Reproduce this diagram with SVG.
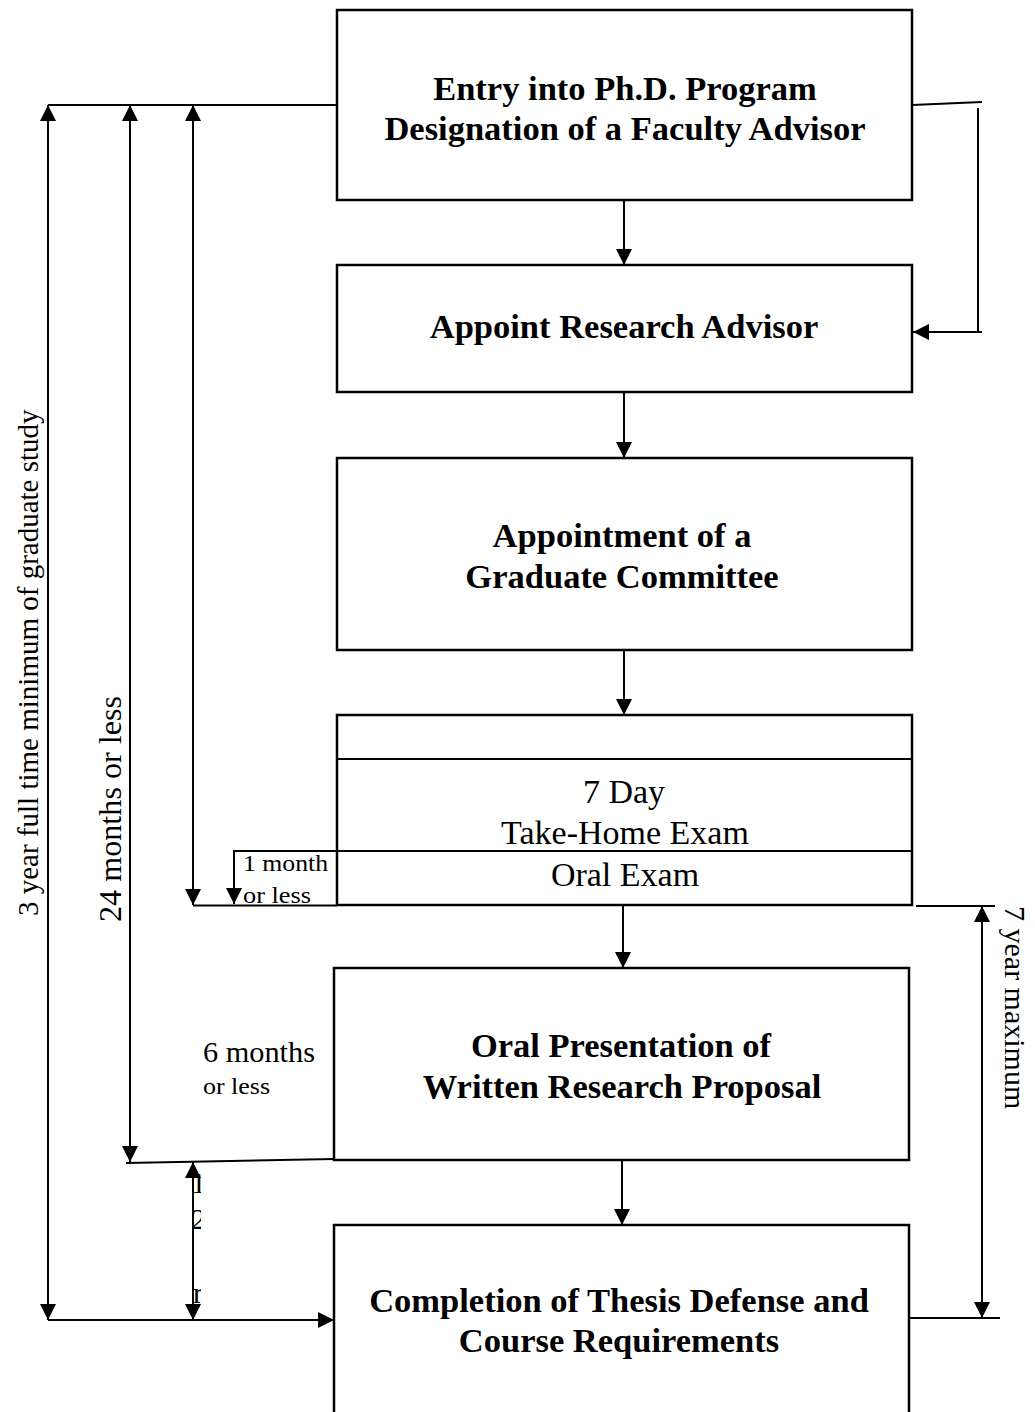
<svg xmlns="http://www.w3.org/2000/svg" width="1035" height="1412" viewBox="0 0 1035 1412">
<style>
.box{fill:#fff;stroke:#000;stroke-width:2.5}
.div{fill:none;stroke:#000;stroke-width:2}
.ln{fill:none;stroke:#000;stroke-width:2}
.b{font-family:'Liberation Serif','Times New Roman',Times,serif;font-weight:700;font-size:34.5px;text-anchor:middle;fill:#000}
.r{font-family:'Liberation Serif','Times New Roman',Times,serif;font-size:34px;text-anchor:middle;fill:#000}
.t{font-family:'Liberation Serif','Times New Roman',Times,serif;fill:#000}
</style>
<defs>
<marker id="ah" markerUnits="userSpaceOnUse" markerWidth="17" markerHeight="17" refX="16" refY="8" orient="auto-start-reverse" viewBox="0 0 17 16">
<path d="M0,0 L16,8 L0,16 z" fill="#000"/>
</marker>
<clipPath id="clipL"><rect x="185" y="1165" width="16" height="150"/></clipPath>
</defs>

<g id="connectors">
<line class="ln" x1="624" y1="200" x2="624" y2="265" marker-end="url(#ah)"/>
<line class="ln" x1="624" y1="392" x2="624" y2="458" marker-end="url(#ah)"/>
<line class="ln" x1="624" y1="650" x2="624" y2="715" marker-end="url(#ah)"/>
<line class="ln" x1="623" y1="905" x2="623" y2="968" marker-end="url(#ah)"/>
<line class="ln" x1="622" y1="1160" x2="622" y2="1225" marker-end="url(#ah)"/>

<line class="ln" x1="48" y1="105" x2="337" y2="105"/>
<line class="ln" x1="48" y1="105" x2="48" y2="1320" marker-start="url(#ah)" marker-end="url(#ah)"/>
<line class="ln" x1="130" y1="105" x2="130" y2="1162" marker-start="url(#ah)" marker-end="url(#ah)"/>
<line class="ln" x1="193" y1="105" x2="193" y2="905" marker-start="url(#ah)" marker-end="url(#ah)"/>
<line class="ln" x1="193" y1="905.5" x2="337" y2="905.5"/>
<polyline class="ln" points="337,851 234,851 234,904" marker-end="url(#ah)"/>
<line class="ln" x1="126" y1="1163" x2="334" y2="1159"/>
<line class="ln" x1="193" y1="1162" x2="193" y2="1320" marker-start="url(#ah)" marker-end="url(#ah)"/>
<line class="ln" x1="48" y1="1320" x2="334" y2="1320" marker-end="url(#ah)"/>

<line class="ln" x1="912" y1="105" x2="982" y2="102"/>
<line class="ln" x1="978" y1="108" x2="978" y2="332"/>
<line class="ln" x1="982" y1="332" x2="913" y2="332" marker-end="url(#ah)"/>

<line class="ln" x1="916" y1="906" x2="995" y2="906"/>
<line class="ln" x1="982" y1="906" x2="982" y2="1318" marker-start="url(#ah)" marker-end="url(#ah)"/>
<line class="ln" x1="909" y1="1318" x2="1000" y2="1318"/>
</g>

<g id="entry">
<rect class="box" x="337" y="10" width="575" height="190"/>
<text class="b" x="625" y="100">Entry into Ph.D. Program</text>
<text class="b" x="625" y="140">Designation of a Faculty Advisor</text>
</g>

<g id="research-advisor">
<rect class="box" x="337" y="265" width="575" height="127"/>
<text class="b" x="624" y="338">Appoint Research Advisor</text>
</g>

<g id="committee">
<rect class="box" x="337" y="458" width="575" height="192"/>
<text class="b" x="622" y="547">Appointment of a</text>
<text class="b" x="622" y="588">Graduate Committee</text>
</g>

<g id="exams">
<rect class="box" x="337" y="715" width="575" height="190"/>
<line class="div" x1="337" y1="759" x2="912" y2="759"/>
<line class="div" x1="337" y1="851" x2="912" y2="851"/>
<text class="r" x="624" y="803">7 Day</text>
<text class="r" x="625" y="844">Take-Home Exam</text>
<text class="r" x="625" y="886">Oral Exam</text>
</g>

<g id="proposal">
<rect class="box" x="334" y="968" width="575" height="192"/>
<text class="b" x="621" y="1057">Oral Presentation of</text>
<text class="b" x="622" y="1098">Written Research Proposal</text>
</g>

<g id="completion">
<rect class="box" x="334" y="1225" width="575" height="220"/>
<text class="b" x="619" y="1312">Completion of Thesis Defense and</text>
<text class="b" x="619" y="1352">Course Requirements</text>
</g>

<g id="labels">
<text class="t" font-size="29" transform="translate(38,916) rotate(-90)">3 year full time minimum of graduate study</text>
<text class="t" font-size="31" transform="translate(121,922) rotate(-90)" textLength="226" lengthAdjust="spacingAndGlyphs">24 months or less</text>
<text class="t" font-size="30" transform="translate(1005,906) rotate(90)">7 year maximum</text>
<text class="t" font-size="23" x="243" y="871" textLength="85" lengthAdjust="spacingAndGlyphs">1 month</text>
<text class="t" font-size="23" x="243" y="903" textLength="68" lengthAdjust="spacingAndGlyphs">or less</text>
<text class="t" font-size="29" x="203" y="1062" textLength="112" lengthAdjust="spacingAndGlyphs">6 months</text>
<text class="t" font-size="24" x="203" y="1094" textLength="67" lengthAdjust="spacingAndGlyphs">or less</text>
<g clip-path="url(#clipL)">
<text class="t" font-size="30" x="191" y="1193">1</text>
<text class="t" font-size="30" x="191" y="1229">2</text>
<text class="t" font-size="30" x="193" y="1303">r</text>
</g>
</g>
</svg>
